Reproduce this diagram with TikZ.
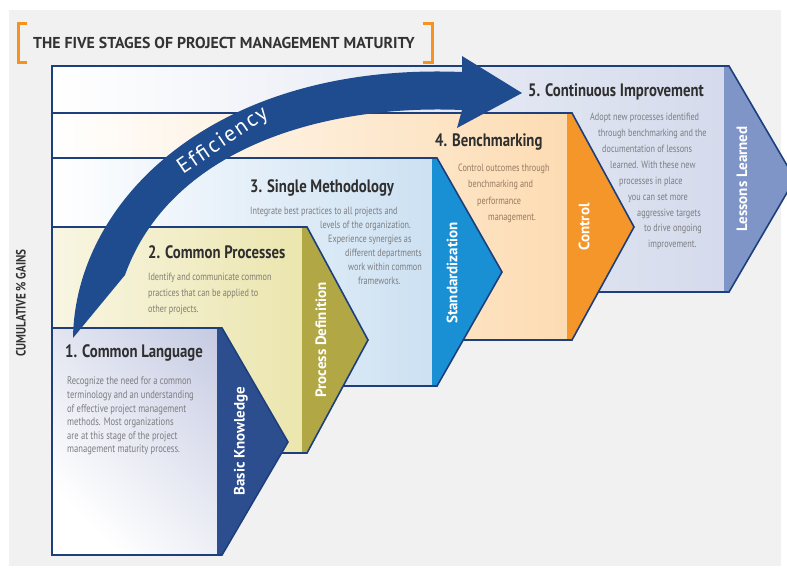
\documentclass[tikz,border=0pt]{standalone}
\usepackage{fontspec}
\setmainfont{PT Sans}
\newfontfamily\headfont[FakeStretch=0.82]{PT Sans}
\newfontfamily\bodyfont[FakeStretch=0.78]{PT Sans}
\newfontfamily\efffont[LetterSpace=8]{PT Sans}
\usetikzlibrary{positioning}
\definecolor{panel}{HTML}{F1F1F1}
\definecolor{frame}{HTML}{1D3F7C}
\definecolor{navy}{HTML}{1F4C8F}
\definecolor{bracket}{HTML}{F6921E}
\definecolor{titlegray}{HTML}{333333}
\definecolor{headgray}{HTML}{2F2F2F}
\definecolor{textgray}{HTML}{7D7D80}
\definecolor{browngray}{HTML}{957A5F}
% stage colours: body and band
\definecolor{learnbody}{HTML}{D0D7EA}
\definecolor{learnband}{HTML}{8095C7}
\definecolor{benchbody}{HTML}{FCD7A8}
\definecolor{benchband}{HTML}{F5962A}
\definecolor{methbody}{HTML}{C3DBF0}
\definecolor{methband}{HTML}{1A90D4}
\definecolor{procbody}{HTML}{E8E1A0}
\definecolor{procband}{HTML}{B1A845}
\definecolor{langbody}{HTML}{C5CAE2}
\definecolor{langband}{HTML}{2C4E8F}

\begin{document}
\begin{tikzpicture}[x=1pt,y=-1pt,
    outline/.style={draw=frame,line width=1.6pt,line join=miter},
    heading/.style={anchor=west,inner sep=0pt,text=headgray,
                    font=\headfont\bfseries\fontsize{18}{20}\selectfont},
    blurb/.style={anchor=north west,inner sep=0pt,align=left,text=textgray},
    bandlabel/.style={rotate=90,inner sep=0pt,text=white,
                      font=\bfseries\fontsize{15}{17}\selectfont}]
  \useasboundingbox (0,0) rectangle (787,571);
  \clip (0,0) rectangle (787,571);
  \fill[white] (0,0) rectangle (787,571);
  \fill[panel] (9,10) rectangle (781,566);

  % title between orange brackets
  \draw[bracket,line width=3pt] (27,23) -- (18,23) -- (18,62) -- (27,62);
  \draw[bracket,line width=3pt] (423,23) -- (432,23) -- (432,62) -- (423,62);
  \node[anchor=west,inner sep=0pt,text=titlegray,
        font=\bfseries\fontsize{15.8}{17}\selectfont]
    (title) at (33,43) {THE FIVE STAGES OF PROJECT MANAGEMENT MATURITY};

  \node[rotate=90,inner sep=0pt,text=titlegray,
        font=\headfont\bfseries\fontsize{13.5}{15}\selectfont]
    (gains) at (21,303) {CUMULATIVE \% GAINS};

  % stage 5
  \path[left color=white,right color=learnbody]
    (52,66) -- (729,66) -- (795,179) -- (729,292) -- (52,292) -- cycle;
  \fill[learnband] (724,66) -- (729,66) -- (795,179) -- (729,292) -- (724,292) -- cycle;
  \draw[outline] (52,66) -- (729,66) -- (795,179) -- (729,292) -- (52,292) -- cycle;

  % stage 4
  \path[left color=white,right color=benchbody]
    (52,113) -- (572,113) -- (634,227) -- (572,340) -- (52,340) -- cycle;
  \fill[benchband] (567,113) -- (572,113) -- (634,227) -- (572,340) -- (567,340) -- cycle;
  \draw[outline] (52,113) -- (572,113) -- (634,227) -- (572,340) -- (52,340) -- cycle;

  % stage 3
  \path[left color=white,right color=methbody]
    (52,158) -- (437,158) -- (502,272) -- (437,386) -- (52,386) -- cycle;
  \fill[methband] (432,158) -- (437,158) -- (502,272) -- (437,386) -- (432,386) -- cycle;
  \draw[outline] (52,158) -- (437,158) -- (502,272) -- (437,386) -- (52,386) -- cycle;

  % stage 2
  \path[left color=procbody!30,right color=procbody]
    (52,227) -- (307,227) -- (368,340) -- (307,453) -- (52,453) -- cycle;
  \fill[procband] (302,227) -- (307,227) -- (368,340) -- (307,453) -- (302,453) -- cycle;
  \draw[outline] (52,227) -- (307,227) -- (368,340) -- (307,453) -- (52,453) -- cycle;

  % stage 1
  \path[left color=white,right color=langbody,shading angle=135]
    (52,328) -- (222,328) -- (288,442) -- (222,555) -- (52,555) -- cycle;
  \fill[langband] (217,328) -- (222,328) -- (288,442) -- (222,555) -- (217,555) -- cycle;
  \draw[outline] (52,328) -- (222,328) -- (288,442) -- (222,555) -- (52,555) -- cycle;

  % band labels
  \node[bandlabel] (basic)    at (241,441) {Basic Knowledge};
  \node[bandlabel] (procdef)  at (321,340) {Process Definition};
  \node[bandlabel] (standard) at (452,273) {Standardization};
  \node[bandlabel] (control)  at (584,227) {Control};
  \node[bandlabel] (lessons)  at (742,179) {Lessons Learned};

  % headings
  \node[heading] (h1) at (65,353)  {1. Common Language};
  \node[heading] (h2) at (148,252) {2. Common Processes};
  \node[heading] (h3) at (250,188) {3. Single Methodology};
  \node[heading] (h4) at (435,142) {4. Benchmarking};
  \node[heading] (h5) at (528,92)  {5. Continuous Improvement};

  % stage texts
  \node[blurb,font=\bodyfont\fontsize{11}{13.6}\selectfont] (t1) at (67,377)
    {Recognize the need for a common\\
     terminology and an understanding\\
     of effective project management\\
     methods. Most organizations\\
     are at this stage of the project\\
     management maturity process.};
  \node[blurb,text=textgray!90!olive,font=\bodyfont\fontsize{10.5}{16}\selectfont] (t2) at (148,273)
    {Identify and communicate common\\
     practices that can be applied to\\
     other projects.};
  \node[blurb,font=\bodyfont\fontsize{10.5}{14}\selectfont] (t3) at (250,207)
    {Integrate best practices to all projects and\\
     \hspace*{70pt}levels of the organization.\\
     \hspace*{78pt}Experience synergies as\\
     \hspace*{95pt}different departments\\
     \hspace*{98pt}work within common\\
     \hspace*{108pt}frameworks.};
  \node[blurb,text=browngray,font=\bodyfont\fontsize{10.5}{16.3}\selectfont] (t4) at (458,164)
    {Control outcomes through\\
     \hspace*{10pt}benchmarking and\\
     \hspace*{19pt}performance\\
     \hspace*{30pt}management.};
  \node[blurb,font=\bodyfont\fontsize{10.5}{15.9}\selectfont] (t5) at (590,113)
    {Adopt new processes identified\\
     \hspace*{8pt}through benchmarking and the\\
     \hspace*{12pt}documentation of lessons\\
     \hspace*{20pt}learned. With these new\\
     \hspace*{29pt}processes in place\\
     \hspace*{38pt}you can set more\\
     \hspace*{47pt}aggressive targets\\
     \hspace*{54pt}to drive ongoing\\
     \hspace*{58pt}improvement.};

  % efficiency arrow
  \fill[navy] (73,338) .. controls (75,200) and (215,62) .. (462,72)
    -- (462,56) -- (522,93) -- (457,128) -- (462,110)
    .. controls (320,104) and (170,150) .. (125,275) -- cycle;
  \node[rotate=34,inner sep=0pt,text=white,font=\efffont\fontsize{22}{24}\selectfont]
    (eff) at (223,141) {Efficiency};
\end{tikzpicture}
\end{document}
